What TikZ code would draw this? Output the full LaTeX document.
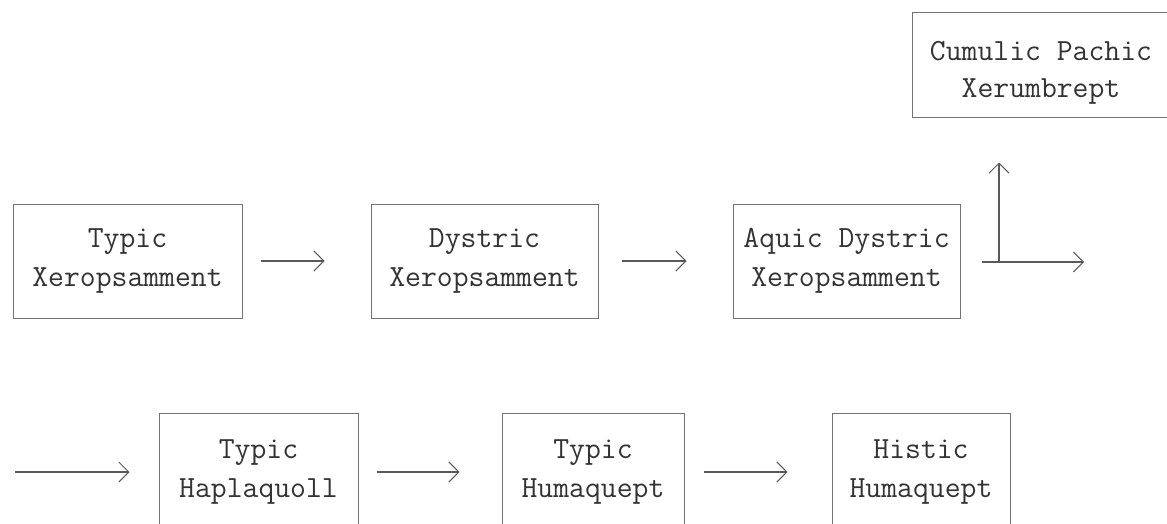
\documentclass[tikz,border=0pt]{standalone}
\usetikzlibrary{arrows.meta}
\begin{document}
\begin{tikzpicture}[x=1pt,y=-1pt,
  tbox/.style={draw=black!55, line width=1pt, inner sep=0pt, align=center,
    font=\ttfamily\fontsize{30.8}{39}\selectfont, text=black!80},
  ttext/.style={inner sep=0pt, align=center,
    font=\ttfamily\fontsize{30.8}{37}\selectfont, text=black!80},
  arr/.style={draw=black!65, line width=1.2pt,
    -{Straight Barb[length=10pt,width=20pt,line width=1pt]}}]
\useasboundingbox (0,0) rectangle (1167,524);
\fill[white] (0,0) rectangle (1167,524);
\clip (0,0) rectangle (1167,524);
% row 1
\node[tbox, minimum width=229pt, minimum height=114pt] (b1) at (127.5,261) {Typic\\Xeropsamment};
\node[tbox, minimum width=227pt, minimum height=114pt] (b2) at (484.5,261) {Dystric\\Xeropsamment};
\node[tbox, minimum width=227pt, minimum height=114pt] (b3) at (846.5,261) {Aquic Dystric\\Xeropsamment};
% top right box
\node[tbox, minimum width=260pt, minimum height=105pt] (cpp) at (1042,65.5) {};
\node[ttext] (cpptext) at (1041,72.5) {Cumulic Pachic\\Xerumbrept};
% row 2
\node[tbox, minimum width=199pt, minimum height=118pt] (b4) at (258.5,472) {Typic\\Haplaquoll};
\node[tbox, minimum width=182pt, minimum height=118pt] (b5) at (593,472) {Typic\\Humaquept};
\node[tbox, minimum width=178pt, minimum height=118pt] (b6) at (921,472) {Histic\\Humaquept};
% connectors
\coordinate (c0) at (999,262);
\coordinate (c1) at (1084,262);
\coordinate (c2) at (15,472);
\draw[arr, shorten <=18pt, shorten >=46pt] (b1) -- (b2);
\draw[arr, shorten <=23pt, shorten >=46pt] (b2) -- (b3);
\draw[arr, shorten <=21pt] (b3.east |- c1) -- (c1);
\draw[arr, shorten >=44pt] (c0) -- (c0 |- cpp.south);
\draw[arr, shorten >=29pt] (c2) -- (b4);
\draw[arr, shorten <=18pt, shorten >=42pt] (b4) -- (b5);
\draw[arr, shorten <=19pt, shorten >=44pt] (b5) -- (b6);
\end{tikzpicture}
\end{document}
